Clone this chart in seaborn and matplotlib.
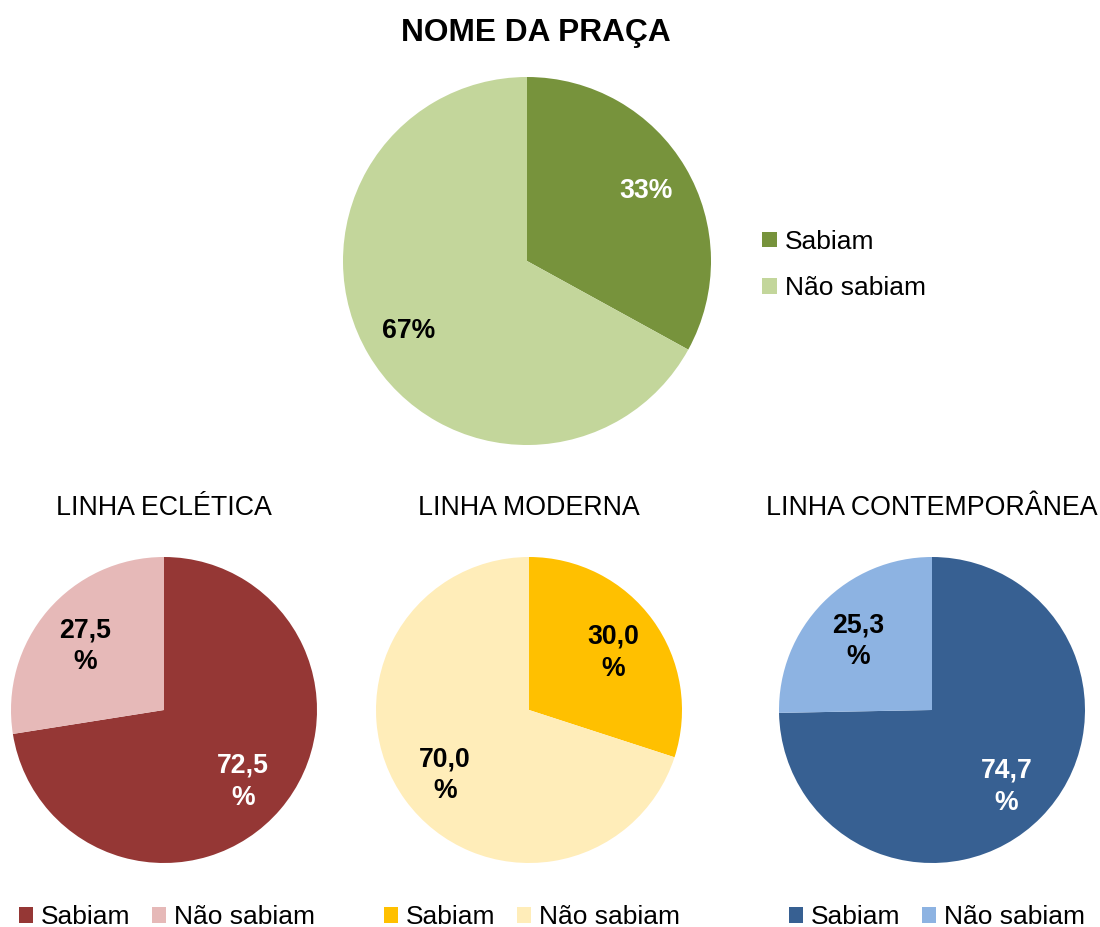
import matplotlib
matplotlib.use("Agg")
import matplotlib.pyplot as plt
import seaborn as sns

sns.set_theme(style="white")
plt.rcParams["font.family"] = ["Liberation Sans", "DejaVu Sans"]
plt.rcParams["text.color"] = "black"

# Data
labels = ["Sabiam", "Não sabiam"]
praca_values = [33, 67]
ecletica_values = [72.5, 27.5]
moderna_values = [30.0, 70.0]
contemporanea_values = [74.7, 25.3]

titles = ["LINHA ECLÉTICA", "LINHA MODERNA", "LINHA CONTEMPORÂNEA"]
main_title = "NOME DA PRAÇA"

# Colours (dark = Sabiam, light = Não sabiam)
green = ["#77933C", "#C3D69B"]
red = ["#953735", "#E6B9B8"]
yellow = ["#FFC000", "#FFEDB9"]
blue = ["#376092", "#8DB3E2"]

W, H = 1100, 927
fig = plt.figure(figsize=(W / 100, H / 100), dpi=100)

LEG_FS = 19


def pie_axes(cx, cy, r):
    return fig.add_axes([(cx - r) / W, (H - cy - r) / H, 2 * r / W, 2 * r / H])


def draw_pie(ax, values, colors, fmt, txt_colors, pctdist, dy=0.0):
    wedges, _, autotexts = ax.pie(
        values, colors=colors, startangle=90, counterclock=False,
        autopct=lambda p: "", pctdistance=pctdist,
        wedgeprops=dict(linewidth=0),
    )
    for t, v, c in zip(autotexts, values, txt_colors):
        t.set_text(fmt(v))
        t.set_color(c)
        t.set_fontsize(19.2)
        t.set_fontweight("bold")
        t.set_linespacing(1.3)
        x, y = t.get_position()
        t.set_position((x, y - dy))
    ax.set_xlim(-1, 1)
    ax.set_ylim(-1, 1)
    ax.set_aspect("equal")
    ax.axis("off")
    return wedges


def fmt_int(v):
    return f"{v:.0f}%"


def fmt_dec(v):
    return f"{v:.1f}".replace(".", ",") + "\n%"


# Top pie
ax0 = pie_axes(527, 261, 184)
w0 = draw_pie(ax0, praca_values, green, fmt_int, ["white", "black"], 0.75)
fig.text(536 / W, 1 - 33 / H, main_title, ha="center", va="center",
         fontsize=22.8, fontweight="bold", color="black")
fig.legend(w0, labels, loc="center left", bbox_to_anchor=(749 / W, 1 - 265 / H),
           frameon=False, fontsize=LEG_FS, handlelength=0.55, handleheight=0.55,
           handletextpad=0.3, labelspacing=0.85, borderpad=0, labelcolor="black")

# Bottom pies
bottom = [
    (164, ecletica_values, red, ["white", "black"], 167),
    (529, moderna_values, yellow, ["black", "black"], 532),
    (932, contemporanea_values, blue, ["white", "black"], 937),
]
for (cx, vals, cols, tcols, lx), title in zip(bottom, titles):
    ax = pie_axes(cx, 710, 153)
    w = draw_pie(ax, vals, cols, fmt_dec, tcols, 0.68, dy=4 / 153)
    fig.text(cx / W, 1 - 508 / H, title, ha="center", va="center",
             fontsize=19.3, color="black")
    fig.legend(w, labels, loc="center", bbox_to_anchor=(lx / W, 1 - 917 / H),
               ncol=2, frameon=False, fontsize=LEG_FS, handlelength=0.55,
               handleheight=0.55, handletextpad=0.3, columnspacing=0.8,
               borderpad=0, labelcolor="black")

fig.savefig("out.png", dpi=100)
